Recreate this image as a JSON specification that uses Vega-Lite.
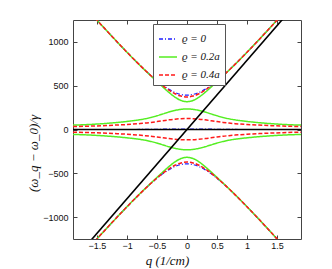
{
"$schema":"https://vega.github.io/schema/vega-lite/v6.json",
"autosize":{"type":"none"},
"padding":{"left":73,"top":20,"right":31,"bottom":30},
"width":228,"height":219,
"background":"white",
"config":{"view":{"stroke":"#444","strokeWidth":1},
"axis":{"domain":false,"grid":false,"tickColor":"#444","tickSize":-4,"labelFont":"Liberation Sans","labelFontSize":9,"labelColor":"#111","titleFont":"Liberation Serif","titleFontSize":13,"titleFontWeight":"normal","titleColor":"#111"},
"legend":{"orient":"none","legendX":80,"legendY":4,"symbolType":"stroke","symbolSize":324,"symbolStrokeWidth":1.5,"labelFont":"Liberation Serif","labelFontSize":11,"labelFontStyle":"italic","labelColor":"#111","strokeColor":"#555","fillColor":"white","padding":5,"rowPadding":3,"symbolOffset":0,"labelOffset":4}},
"datasets":{
"blue":[
{"q":-1.6,"v":1323.4,"s":"ϱ = 0","b":"u"},{"q":-1.4,"v":1173.4,"s":"ϱ = 0","b":"u"},{"q":-1.2,"v":1025.8,"s":"ϱ = 0","b":"u"},{"q":-1.0,"v":881.9,"s":"ϱ = 0","b":"u"},{"q":-0.8,"v":743.7,"s":"ϱ = 0","b":"u"},{"q":-0.7,"v":677.8,"s":"ϱ = 0","b":"u"},{"q":-0.6,"v":615.1,"s":"ϱ = 0","b":"u"},{"q":-0.5,"v":556.5,"s":"ϱ = 0","b":"u"},{"q":-0.4,"v":503.5,"s":"ϱ = 0","b":"u"},{"q":-0.3,"v":458.1,"s":"ϱ = 0","b":"u"},{"q":-0.2,"v":422.6,"s":"ϱ = 0","b":"u"},{"q":-0.1,"v":399.9,"s":"ϱ = 0","b":"u"},{"q":0,"v":392,"s":"ϱ = 0","b":"u"},{"q":0.1,"v":399.9,"s":"ϱ = 0","b":"u"},{"q":0.2,"v":422.6,"s":"ϱ = 0","b":"u"},{"q":0.3,"v":458.1,"s":"ϱ = 0","b":"u"},{"q":0.4,"v":503.5,"s":"ϱ = 0","b":"u"},{"q":0.5,"v":556.5,"s":"ϱ = 0","b":"u"},{"q":0.6,"v":615.1,"s":"ϱ = 0","b":"u"},{"q":0.7,"v":677.8,"s":"ϱ = 0","b":"u"},{"q":0.8,"v":743.7,"s":"ϱ = 0","b":"u"},{"q":1.0,"v":881.9,"s":"ϱ = 0","b":"u"},{"q":1.2,"v":1025.8,"s":"ϱ = 0","b":"u"},{"q":1.4,"v":1173.4,"s":"ϱ = 0","b":"u"},{"q":1.6,"v":1323.4,"s":"ϱ = 0","b":"u"},
{"q":-1.6,"v":-1323.4,"s":"ϱ = 0","b":"l"},{"q":-1.4,"v":-1173.4,"s":"ϱ = 0","b":"l"},{"q":-1.2,"v":-1025.8,"s":"ϱ = 0","b":"l"},{"q":-1.0,"v":-881.9,"s":"ϱ = 0","b":"l"},{"q":-0.8,"v":-743.7,"s":"ϱ = 0","b":"l"},{"q":-0.7,"v":-677.8,"s":"ϱ = 0","b":"l"},{"q":-0.6,"v":-615.1,"s":"ϱ = 0","b":"l"},{"q":-0.5,"v":-556.5,"s":"ϱ = 0","b":"l"},{"q":-0.4,"v":-503.5,"s":"ϱ = 0","b":"l"},{"q":-0.3,"v":-458.1,"s":"ϱ = 0","b":"l"},{"q":-0.2,"v":-422.6,"s":"ϱ = 0","b":"l"},{"q":-0.1,"v":-399.9,"s":"ϱ = 0","b":"l"},{"q":0,"v":-392,"s":"ϱ = 0","b":"l"},{"q":0.1,"v":-399.9,"s":"ϱ = 0","b":"l"},{"q":0.2,"v":-422.6,"s":"ϱ = 0","b":"l"},{"q":0.3,"v":-458.1,"s":"ϱ = 0","b":"l"},{"q":0.4,"v":-503.5,"s":"ϱ = 0","b":"l"},{"q":0.5,"v":-556.5,"s":"ϱ = 0","b":"l"},{"q":0.6,"v":-615.1,"s":"ϱ = 0","b":"l"},{"q":0.7,"v":-677.8,"s":"ϱ = 0","b":"l"},{"q":0.8,"v":-743.7,"s":"ϱ = 0","b":"l"},{"q":1.0,"v":-881.9,"s":"ϱ = 0","b":"l"},{"q":1.2,"v":-1025.8,"s":"ϱ = 0","b":"l"},{"q":1.4,"v":-1173.4,"s":"ϱ = 0","b":"l"},{"q":1.6,"v":-1323.4,"s":"ϱ = 0","b":"l"},
{"q":-1.9,"v":0,"s":"ϱ = 0","b":"m"},{"q":-1.0,"v":0,"s":"ϱ = 0","b":"m"},{"q":-0.5,"v":2,"s":"ϱ = 0","b":"m"},{"q":-0.3,"v":5,"s":"ϱ = 0","b":"m"},{"q":0,"v":6,"s":"ϱ = 0","b":"m"},{"q":0.3,"v":5,"s":"ϱ = 0","b":"m"},{"q":0.5,"v":2,"s":"ϱ = 0","b":"m"},{"q":1.0,"v":0,"s":"ϱ = 0","b":"m"},{"q":1.9,"v":0,"s":"ϱ = 0","b":"m"}
],
"green":[
{"q":-1.6,"v":1323.4,"s":"ϱ = 0.2a","b":"u"},{"q":-1.4,"v":1173.4,"s":"ϱ = 0.2a","b":"u"},{"q":-1.2,"v":1025.8,"s":"ϱ = 0.2a","b":"u"},{"q":-1.0,"v":881.9,"s":"ϱ = 0.2a","b":"u"},{"q":-0.8,"v":743.2,"s":"ϱ = 0.2a","b":"u"},{"q":-0.7,"v":676.4,"s":"ϱ = 0.2a","b":"u"},{"q":-0.6,"v":611.2,"s":"ϱ = 0.2a","b":"u"},{"q":-0.5,"v":546.9,"s":"ϱ = 0.2a","b":"u"},{"q":-0.4,"v":483.4,"s":"ϱ = 0.2a","b":"u"},{"q":-0.3,"v":422.6,"s":"ϱ = 0.2a","b":"u"},{"q":-0.2,"v":369.2,"s":"ϱ = 0.2a","b":"u"},{"q":-0.1,"v":331.7,"s":"ϱ = 0.2a","b":"u"},{"q":0,"v":318,"s":"ϱ = 0.2a","b":"u"},{"q":0.1,"v":331.7,"s":"ϱ = 0.2a","b":"u"},{"q":0.2,"v":369.2,"s":"ϱ = 0.2a","b":"u"},{"q":0.3,"v":422.6,"s":"ϱ = 0.2a","b":"u"},{"q":0.4,"v":483.4,"s":"ϱ = 0.2a","b":"u"},{"q":0.5,"v":546.9,"s":"ϱ = 0.2a","b":"u"},{"q":0.6,"v":611.2,"s":"ϱ = 0.2a","b":"u"},{"q":0.7,"v":676.4,"s":"ϱ = 0.2a","b":"u"},{"q":0.8,"v":743.2,"s":"ϱ = 0.2a","b":"u"},{"q":1.0,"v":881.9,"s":"ϱ = 0.2a","b":"u"},{"q":1.2,"v":1025.8,"s":"ϱ = 0.2a","b":"u"},{"q":1.4,"v":1173.4,"s":"ϱ = 0.2a","b":"u"},{"q":1.6,"v":1323.4,"s":"ϱ = 0.2a","b":"u"},
{"q":-1.6,"v":-1323.4,"s":"ϱ = 0.2a","b":"l"},{"q":-1.4,"v":-1173.4,"s":"ϱ = 0.2a","b":"l"},{"q":-1.2,"v":-1025.8,"s":"ϱ = 0.2a","b":"l"},{"q":-1.0,"v":-881.9,"s":"ϱ = 0.2a","b":"l"},{"q":-0.8,"v":-743.2,"s":"ϱ = 0.2a","b":"l"},{"q":-0.7,"v":-676.4,"s":"ϱ = 0.2a","b":"l"},{"q":-0.6,"v":-611.2,"s":"ϱ = 0.2a","b":"l"},{"q":-0.5,"v":-546.9,"s":"ϱ = 0.2a","b":"l"},{"q":-0.4,"v":-483.4,"s":"ϱ = 0.2a","b":"l"},{"q":-0.3,"v":-422.6,"s":"ϱ = 0.2a","b":"l"},{"q":-0.2,"v":-369.2,"s":"ϱ = 0.2a","b":"l"},{"q":-0.1,"v":-331.7,"s":"ϱ = 0.2a","b":"l"},{"q":0,"v":-318,"s":"ϱ = 0.2a","b":"l"},{"q":0.1,"v":-331.7,"s":"ϱ = 0.2a","b":"l"},{"q":0.2,"v":-369.2,"s":"ϱ = 0.2a","b":"l"},{"q":0.3,"v":-422.6,"s":"ϱ = 0.2a","b":"l"},{"q":0.4,"v":-483.4,"s":"ϱ = 0.2a","b":"l"},{"q":0.5,"v":-546.9,"s":"ϱ = 0.2a","b":"l"},{"q":0.6,"v":-611.2,"s":"ϱ = 0.2a","b":"l"},{"q":0.7,"v":-676.4,"s":"ϱ = 0.2a","b":"l"},{"q":0.8,"v":-743.2,"s":"ϱ = 0.2a","b":"l"},{"q":1.0,"v":-881.9,"s":"ϱ = 0.2a","b":"l"},{"q":1.2,"v":-1025.8,"s":"ϱ = 0.2a","b":"l"},{"q":1.4,"v":-1173.4,"s":"ϱ = 0.2a","b":"l"},{"q":1.6,"v":-1323.4,"s":"ϱ = 0.2a","b":"l"},
{"q":-1.9,"v":50,"s":"ϱ = 0.2a","b":"mu"},{"q":-1.6,"v":58,"s":"ϱ = 0.2a","b":"mu"},{"q":-1.4,"v":67,"s":"ϱ = 0.2a","b":"mu"},{"q":-1.2,"v":78,"s":"ϱ = 0.2a","b":"mu"},{"q":-1.0,"v":92,"s":"ϱ = 0.2a","b":"mu"},{"q":-0.8,"v":110,"s":"ϱ = 0.2a","b":"mu"},{"q":-0.7,"v":122,"s":"ϱ = 0.2a","b":"mu"},{"q":-0.6,"v":138,"s":"ϱ = 0.2a","b":"mu"},{"q":-0.5,"v":157,"s":"ϱ = 0.2a","b":"mu"},{"q":-0.4,"v":178,"s":"ϱ = 0.2a","b":"mu"},{"q":-0.3,"v":200,"s":"ϱ = 0.2a","b":"mu"},{"q":-0.2,"v":218,"s":"ϱ = 0.2a","b":"mu"},{"q":-0.1,"v":230,"s":"ϱ = 0.2a","b":"mu"},{"q":0,"v":235,"s":"ϱ = 0.2a","b":"mu"},{"q":0.1,"v":230,"s":"ϱ = 0.2a","b":"mu"},{"q":0.2,"v":218,"s":"ϱ = 0.2a","b":"mu"},{"q":0.3,"v":200,"s":"ϱ = 0.2a","b":"mu"},{"q":0.4,"v":178,"s":"ϱ = 0.2a","b":"mu"},{"q":0.5,"v":157,"s":"ϱ = 0.2a","b":"mu"},{"q":0.6,"v":138,"s":"ϱ = 0.2a","b":"mu"},{"q":0.7,"v":122,"s":"ϱ = 0.2a","b":"mu"},{"q":0.8,"v":110,"s":"ϱ = 0.2a","b":"mu"},{"q":1.0,"v":92,"s":"ϱ = 0.2a","b":"mu"},{"q":1.2,"v":78,"s":"ϱ = 0.2a","b":"mu"},{"q":1.4,"v":67,"s":"ϱ = 0.2a","b":"mu"},{"q":1.6,"v":58,"s":"ϱ = 0.2a","b":"mu"},{"q":1.9,"v":50,"s":"ϱ = 0.2a","b":"mu"},
{"q":-1.9,"v":-56,"s":"ϱ = 0.2a","b":"ml"},{"q":-1.6,"v":-64,"s":"ϱ = 0.2a","b":"ml"},{"q":-1.4,"v":-72,"s":"ϱ = 0.2a","b":"ml"},{"q":-1.2,"v":-82,"s":"ϱ = 0.2a","b":"ml"},{"q":-1.0,"v":-95,"s":"ϱ = 0.2a","b":"ml"},{"q":-0.8,"v":-111,"s":"ϱ = 0.2a","b":"ml"},{"q":-0.7,"v":-122,"s":"ϱ = 0.2a","b":"ml"},{"q":-0.6,"v":-137,"s":"ϱ = 0.2a","b":"ml"},{"q":-0.5,"v":-155,"s":"ϱ = 0.2a","b":"ml"},{"q":-0.4,"v":-176,"s":"ϱ = 0.2a","b":"ml"},{"q":-0.3,"v":-197,"s":"ϱ = 0.2a","b":"ml"},{"q":-0.2,"v":-215,"s":"ϱ = 0.2a","b":"ml"},{"q":-0.1,"v":-227,"s":"ϱ = 0.2a","b":"ml"},{"q":0,"v":-232,"s":"ϱ = 0.2a","b":"ml"},{"q":0.1,"v":-227,"s":"ϱ = 0.2a","b":"ml"},{"q":0.2,"v":-215,"s":"ϱ = 0.2a","b":"ml"},{"q":0.3,"v":-197,"s":"ϱ = 0.2a","b":"ml"},{"q":0.4,"v":-176,"s":"ϱ = 0.2a","b":"ml"},{"q":0.5,"v":-155,"s":"ϱ = 0.2a","b":"ml"},{"q":0.6,"v":-137,"s":"ϱ = 0.2a","b":"ml"},{"q":0.7,"v":-122,"s":"ϱ = 0.2a","b":"ml"},{"q":0.8,"v":-111,"s":"ϱ = 0.2a","b":"ml"},{"q":1.0,"v":-95,"s":"ϱ = 0.2a","b":"ml"},{"q":1.2,"v":-82,"s":"ϱ = 0.2a","b":"ml"},{"q":1.4,"v":-72,"s":"ϱ = 0.2a","b":"ml"},{"q":1.6,"v":-64,"s":"ϱ = 0.2a","b":"ml"},{"q":1.9,"v":-56,"s":"ϱ = 0.2a","b":"ml"}
],
"red":[
{"q":-1.6,"v":1323.4,"s":"ϱ = 0.4a","b":"u"},{"q":-1.4,"v":1173.4,"s":"ϱ = 0.4a","b":"u"},{"q":-1.2,"v":1025.8,"s":"ϱ = 0.4a","b":"u"},{"q":-1.0,"v":881.9,"s":"ϱ = 0.4a","b":"u"},{"q":-0.8,"v":743.5,"s":"ϱ = 0.4a","b":"u"},{"q":-0.7,"v":677.4,"s":"ϱ = 0.4a","b":"u"},{"q":-0.6,"v":614.0,"s":"ϱ = 0.4a","b":"u"},{"q":-0.5,"v":553.9,"s":"ϱ = 0.4a","b":"u"},{"q":-0.4,"v":498.1,"s":"ϱ = 0.4a","b":"u"},{"q":-0.3,"v":448.5,"s":"ϱ = 0.4a","b":"u"},{"q":-0.2,"v":408.2,"s":"ϱ = 0.4a","b":"u"},{"q":-0.1,"v":381.5,"s":"ϱ = 0.4a","b":"u"},{"q":0,"v":372,"s":"ϱ = 0.4a","b":"u"},{"q":0.1,"v":381.5,"s":"ϱ = 0.4a","b":"u"},{"q":0.2,"v":408.2,"s":"ϱ = 0.4a","b":"u"},{"q":0.3,"v":448.5,"s":"ϱ = 0.4a","b":"u"},{"q":0.4,"v":498.1,"s":"ϱ = 0.4a","b":"u"},{"q":0.5,"v":553.9,"s":"ϱ = 0.4a","b":"u"},{"q":0.6,"v":614.0,"s":"ϱ = 0.4a","b":"u"},{"q":0.7,"v":677.4,"s":"ϱ = 0.4a","b":"u"},{"q":0.8,"v":743.5,"s":"ϱ = 0.4a","b":"u"},{"q":1.0,"v":881.9,"s":"ϱ = 0.4a","b":"u"},{"q":1.2,"v":1025.8,"s":"ϱ = 0.4a","b":"u"},{"q":1.4,"v":1173.4,"s":"ϱ = 0.4a","b":"u"},{"q":1.6,"v":1323.4,"s":"ϱ = 0.4a","b":"u"},
{"q":-1.6,"v":-1323.4,"s":"ϱ = 0.4a","b":"l"},{"q":-1.4,"v":-1173.4,"s":"ϱ = 0.4a","b":"l"},{"q":-1.2,"v":-1025.8,"s":"ϱ = 0.4a","b":"l"},{"q":-1.0,"v":-881.9,"s":"ϱ = 0.4a","b":"l"},{"q":-0.8,"v":-743.5,"s":"ϱ = 0.4a","b":"l"},{"q":-0.7,"v":-677.4,"s":"ϱ = 0.4a","b":"l"},{"q":-0.6,"v":-614.0,"s":"ϱ = 0.4a","b":"l"},{"q":-0.5,"v":-553.9,"s":"ϱ = 0.4a","b":"l"},{"q":-0.4,"v":-498.1,"s":"ϱ = 0.4a","b":"l"},{"q":-0.3,"v":-448.5,"s":"ϱ = 0.4a","b":"l"},{"q":-0.2,"v":-408.2,"s":"ϱ = 0.4a","b":"l"},{"q":-0.1,"v":-381.5,"s":"ϱ = 0.4a","b":"l"},{"q":0,"v":-372,"s":"ϱ = 0.4a","b":"l"},{"q":0.1,"v":-381.5,"s":"ϱ = 0.4a","b":"l"},{"q":0.2,"v":-408.2,"s":"ϱ = 0.4a","b":"l"},{"q":0.3,"v":-448.5,"s":"ϱ = 0.4a","b":"l"},{"q":0.4,"v":-498.1,"s":"ϱ = 0.4a","b":"l"},{"q":0.5,"v":-553.9,"s":"ϱ = 0.4a","b":"l"},{"q":0.6,"v":-614.0,"s":"ϱ = 0.4a","b":"l"},{"q":0.7,"v":-677.4,"s":"ϱ = 0.4a","b":"l"},{"q":0.8,"v":-743.5,"s":"ϱ = 0.4a","b":"l"},{"q":1.0,"v":-881.9,"s":"ϱ = 0.4a","b":"l"},{"q":1.2,"v":-1025.8,"s":"ϱ = 0.4a","b":"l"},{"q":1.4,"v":-1173.4,"s":"ϱ = 0.4a","b":"l"},{"q":1.6,"v":-1323.4,"s":"ϱ = 0.4a","b":"l"},
{"q":-1.9,"v":34,"s":"ϱ = 0.4a","b":"mu"},{"q":-1.6,"v":39,"s":"ϱ = 0.4a","b":"mu"},{"q":-1.4,"v":44,"s":"ϱ = 0.4a","b":"mu"},{"q":-1.2,"v":50,"s":"ϱ = 0.4a","b":"mu"},{"q":-1.0,"v":57,"s":"ϱ = 0.4a","b":"mu"},{"q":-0.8,"v":67,"s":"ϱ = 0.4a","b":"mu"},{"q":-0.7,"v":73,"s":"ϱ = 0.4a","b":"mu"},{"q":-0.6,"v":81,"s":"ϱ = 0.4a","b":"mu"},{"q":-0.5,"v":90,"s":"ϱ = 0.4a","b":"mu"},{"q":-0.4,"v":100,"s":"ϱ = 0.4a","b":"mu"},{"q":-0.3,"v":110,"s":"ϱ = 0.4a","b":"mu"},{"q":-0.2,"v":118,"s":"ϱ = 0.4a","b":"mu"},{"q":-0.1,"v":123,"s":"ϱ = 0.4a","b":"mu"},{"q":0,"v":125,"s":"ϱ = 0.4a","b":"mu"},{"q":0.1,"v":123,"s":"ϱ = 0.4a","b":"mu"},{"q":0.2,"v":118,"s":"ϱ = 0.4a","b":"mu"},{"q":0.3,"v":110,"s":"ϱ = 0.4a","b":"mu"},{"q":0.4,"v":100,"s":"ϱ = 0.4a","b":"mu"},{"q":0.5,"v":90,"s":"ϱ = 0.4a","b":"mu"},{"q":0.6,"v":81,"s":"ϱ = 0.4a","b":"mu"},{"q":0.7,"v":73,"s":"ϱ = 0.4a","b":"mu"},{"q":0.8,"v":67,"s":"ϱ = 0.4a","b":"mu"},{"q":1.0,"v":57,"s":"ϱ = 0.4a","b":"mu"},{"q":1.2,"v":50,"s":"ϱ = 0.4a","b":"mu"},{"q":1.4,"v":44,"s":"ϱ = 0.4a","b":"mu"},{"q":1.6,"v":39,"s":"ϱ = 0.4a","b":"mu"},{"q":1.9,"v":34,"s":"ϱ = 0.4a","b":"mu"},
{"q":-1.9,"v":-30,"s":"ϱ = 0.4a","b":"ml"},{"q":-1.6,"v":-36,"s":"ϱ = 0.4a","b":"ml"},{"q":-1.4,"v":-41,"s":"ϱ = 0.4a","b":"ml"},{"q":-1.2,"v":-47,"s":"ϱ = 0.4a","b":"ml"},{"q":-1.0,"v":-54,"s":"ϱ = 0.4a","b":"ml"},{"q":-0.8,"v":-64,"s":"ϱ = 0.4a","b":"ml"},{"q":-0.7,"v":-70,"s":"ϱ = 0.4a","b":"ml"},{"q":-0.6,"v":-77,"s":"ϱ = 0.4a","b":"ml"},{"q":-0.5,"v":-86,"s":"ϱ = 0.4a","b":"ml"},{"q":-0.4,"v":-95,"s":"ϱ = 0.4a","b":"ml"},{"q":-0.3,"v":-104,"s":"ϱ = 0.4a","b":"ml"},{"q":-0.2,"v":-111,"s":"ϱ = 0.4a","b":"ml"},{"q":-0.1,"v":-116,"s":"ϱ = 0.4a","b":"ml"},{"q":0,"v":-118,"s":"ϱ = 0.4a","b":"ml"},{"q":0.1,"v":-116,"s":"ϱ = 0.4a","b":"ml"},{"q":0.2,"v":-111,"s":"ϱ = 0.4a","b":"ml"},{"q":0.3,"v":-104,"s":"ϱ = 0.4a","b":"ml"},{"q":0.4,"v":-95,"s":"ϱ = 0.4a","b":"ml"},{"q":0.5,"v":-86,"s":"ϱ = 0.4a","b":"ml"},{"q":0.6,"v":-77,"s":"ϱ = 0.4a","b":"ml"},{"q":0.7,"v":-70,"s":"ϱ = 0.4a","b":"ml"},{"q":0.8,"v":-64,"s":"ϱ = 0.4a","b":"ml"},{"q":1.0,"v":-54,"s":"ϱ = 0.4a","b":"ml"},{"q":1.2,"v":-47,"s":"ϱ = 0.4a","b":"ml"},{"q":1.4,"v":-41,"s":"ϱ = 0.4a","b":"ml"},{"q":1.6,"v":-36,"s":"ϱ = 0.4a","b":"ml"},{"q":1.9,"v":-30,"s":"ϱ = 0.4a","b":"ml"}
],
"black":[
{"q":-1.9,"v":-1501,"b":"photon"},{"q":1.9,"v":1501,"b":"photon"},{"q":-1.9,"v":0,"b":"zero"},{"q":1.9,"v":0,"b":"zero"}
]
},
"resolve":{"axis":{"x":"independent","y":"independent"}},
"layer":[
{"data":{"name":"blue"},"mark":{"type":"line","clip":true,"strokeWidth":1.2,"interpolate":"monotone"},
"encoding":{"x":{"field":"q","type":"quantitative","scale":{"domain":[-1.9,1.9],"nice":false,"zero":false},"axis":{"orient":"bottom","values":[-1.5,-1,-0.5,0,0.5,1,1.5],"format":"~g","labelPadding":6,"title":"q   (1/cm)","titleFontStyle":"italic","titleX":94,"titleY":21,"titleBaseline":"middle","titleAnchor":null}},
"y":{"field":"v","type":"quantitative","scale":{"domain":[-1250,1250],"nice":false},"axis":{"orient":"left","values":[-1000,-500,0,500,1000],"format":"d","labelPadding":9,"title":"(ω_q − ω_0)/γ","titleFontStyle":"italic","titleX":-40,"titleY":133,"titleBaseline":"middle","titleAnchor":null}},
"color":{"field":"s","type":"nominal","scale":{"domain":["ϱ = 0","ϱ = 0.2a","ϱ = 0.4a"],"range":["#1f1fff","#55ee22","#ff1a1a"]},"legend":{"title":null}},
"strokeDash":{"field":"s","type":"nominal","scale":{"domain":["ϱ = 0","ϱ = 0.2a","ϱ = 0.4a"],"range":[[4,2,1,2],[1,0],[4,2]]},"legend":{"title":null}},
"detail":{"field":"b"}}},
{"data":{"name":"green"},"mark":{"type":"line","clip":true,"strokeWidth":1.5,"interpolate":"monotone"},
"encoding":{"x":{"field":"q","type":"quantitative","axis":{"orient":"top","values":[-1.5,-1,-0.5,0,0.5,1,1.5],"labels":false,"title":null}},
"y":{"field":"v","type":"quantitative","axis":{"orient":"right","values":[-1000,-500,0,500,1000],"labels":false,"title":null}},
"color":{"field":"s","type":"nominal"},"strokeDash":{"field":"s","type":"nominal"},"detail":{"field":"b"}}},
{"data":{"name":"red"},"mark":{"type":"line","clip":true,"strokeWidth":1.5,"interpolate":"monotone"},
"encoding":{"x":{"field":"q","type":"quantitative","axis":null},"y":{"field":"v","type":"quantitative","axis":null},
"color":{"field":"s","type":"nominal"},"strokeDash":{"field":"s","type":"nominal"},"detail":{"field":"b"}}},
{"data":{"name":"black"},"mark":{"type":"line","clip":true,"strokeWidth":1.6,"color":"black"},
"encoding":{"x":{"field":"q","type":"quantitative","axis":null},"y":{"field":"v","type":"quantitative","axis":null},"detail":{"field":"b"}}}
]
}
